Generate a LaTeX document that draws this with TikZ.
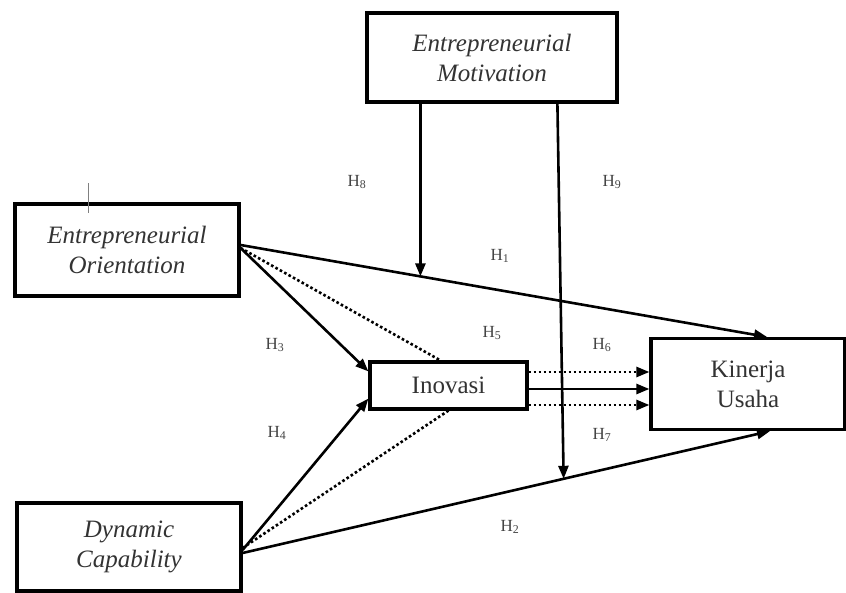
\documentclass[tikz,border=0pt]{standalone}
\usepackage{fontspec}
\setmainfont{Liberation Serif}
\usetikzlibrary{arrows.meta,calc}
\definecolor{txt}{HTML}{333333}
\definecolor{lbl}{HTML}{444444}
\tikzset{
  boxnode/.style={draw=black, line width=3.2pt, rectangle, align=center, text=txt,
    font=\fontsize{25}{30}\selectfont, inner sep=0pt},
  conn/.style={line width=2.6pt, draw=black},
  tip/.style={-{Triangle[length=13pt,width=10pt]}},
  dotline/.style={conn, dash pattern=on 2.6pt off 2.4pt},
  hlabel/.style={text=lbl, font=\fontsize{17}{19}\selectfont, inner sep=0pt}
}
\begin{document}
\begin{tikzpicture}[x=1pt,y=-1pt]
\useasboundingbox (0,0) rectangle (846,593);
\fill[white] (0,0) rectangle (846,593);

% boxes
\node[boxnode, minimum width=250pt, minimum height=89pt] (mot) at (492,57.5) {\itshape Entrepreneurial\\\itshape Motivation};
\node[boxnode, minimum width=224pt, minimum height=92pt] (eo) at (127,250) {\itshape Entrepreneurial\\\itshape Orientation};
\node[boxnode, minimum width=157pt, minimum height=47pt] (inov) at (448.5,385.5) {Inovasi};
\node[boxnode, minimum width=194pt, minimum height=91pt] (kin) at (748,384) {Kinerja\\Usaha};
\node[boxnode, minimum width=224pt, minimum height=88pt] (dc) at (129,547) {\itshape Dynamic\\\itshape Capability};

% stray tick on EO box
\draw[line width=0.8pt, gray] ($(eo.north west)+(75,-19)$) -- ($(eo.north west)+(75,11)$);

% anchor points
\coordinate (eoA) at ($(eo.east)+(0,-5)$);
\coordinate (eoB) at ($(eo.east)+(0,-2)$);
\coordinate (dcA) at ($(dc.east)+(0,6)$);
\coordinate (dcB) at ($(dc.east)+(0,3)$);
\coordinate (dcC) at ($(dc.east)+(0,1)$);
\coordinate (k1) at ($(kin.north)+(19,0)$);
\coordinate (k2) at ($(kin.south)+(22,0)$);
\coordinate (m1) at ($(eoA)!0.3416!(k1)$);
\coordinate (m2) at ($(dcA)!0.6087!(k2)$);

% H1, H2
\draw[conn, tip] (eoA) -- (k1);
\draw[conn, tip] (dcA) -- (k2);

% moderation arrows
\draw[conn, tip] (mot.south -| m1) -- (m1);
\draw[conn, tip] ($(mot.south west)+(192,0)$) -- (m2);

% to Inovasi
\draw[conn, tip] (eoB) -- ($(inov.north west)+(0,11)$);
\draw[dotline] (eoB) -- ($(inov.north west)+(72,0)$);
\draw[conn, tip] (dcB) -- ($(inov.south west)+(0,-12)$);
\draw[dotline] (dcC) -- ($(inov.south west)+(80,0)$);

% Inovasi to Kinerja
\coordinate (i1) at ($(inov.east)+(0,-13.5)$);
\coordinate (i2) at ($(inov.east)+(0,3.5)$);
\coordinate (i3) at ($(inov.east)+(0,19.5)$);
\draw[dotline, tip] (i1) -- (i1 -| kin.west);
\draw[conn, tip] (i2) -- (i2 -| kin.west);
\draw[dotline, tip] (i3) -- (i3 -| kin.west);

% labels
\node[hlabel] (h8) at (357,182) {H\textsubscript{8}};
\node[hlabel] (h9) at (612,182) {H\textsubscript{9}};
\node[hlabel] (h1) at (500,256) {H\textsubscript{1}};
\node[hlabel] (h5) at (492,333) {H\textsubscript{5}};
\node[hlabel] (h6) at (602,345) {H\textsubscript{6}};
\node[hlabel] (h3) at (275,345) {H\textsubscript{3}};
\node[hlabel] (h4) at (277,433) {H\textsubscript{4}};
\node[hlabel] (h7) at (602,435) {H\textsubscript{7}};
\node[hlabel] (h2) at (510,527) {H\textsubscript{2}};
\end{tikzpicture}
\end{document}
